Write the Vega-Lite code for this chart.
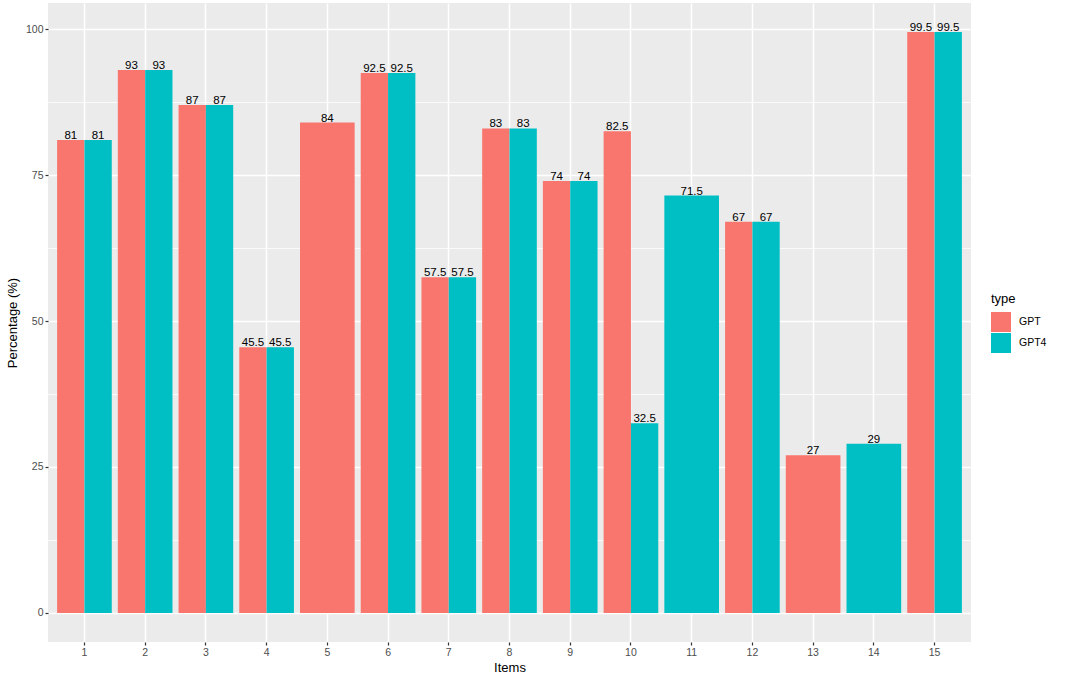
{
  "$schema": "https://vega.github.io/schema/vega-lite/v6.json",
  "width": 923,
  "height": 639,
  "autosize": {"type": "none"},
  "padding": {"left": 48, "top": 3, "right": 95, "bottom": 45},
  "background": "white",
  "config": {
    "font": "Liberation Sans",
    "view": {"fill": "#EBEBEB", "stroke": null}
  },
  "data": {
    "values": [
      {"item": "1", "type": "GPT", "value": 81},
      {"item": "1", "type": "GPT4", "value": 81},
      {"item": "2", "type": "GPT", "value": 93},
      {"item": "2", "type": "GPT4", "value": 93},
      {"item": "3", "type": "GPT", "value": 87},
      {"item": "3", "type": "GPT4", "value": 87},
      {"item": "4", "type": "GPT", "value": 45.5},
      {"item": "4", "type": "GPT4", "value": 45.5},
      {"item": "5", "type": "GPT", "value": 84},
      {"item": "6", "type": "GPT", "value": 92.5},
      {"item": "6", "type": "GPT4", "value": 92.5},
      {"item": "7", "type": "GPT", "value": 57.5},
      {"item": "7", "type": "GPT4", "value": 57.5},
      {"item": "8", "type": "GPT", "value": 83},
      {"item": "8", "type": "GPT4", "value": 83},
      {"item": "9", "type": "GPT", "value": 74},
      {"item": "9", "type": "GPT4", "value": 74},
      {"item": "10", "type": "GPT", "value": 82.5},
      {"item": "10", "type": "GPT4", "value": 32.5},
      {"item": "11", "type": "GPT4", "value": 71.5},
      {"item": "12", "type": "GPT", "value": 67},
      {"item": "12", "type": "GPT4", "value": 67},
      {"item": "13", "type": "GPT", "value": 27},
      {"item": "14", "type": "GPT4", "value": 29},
      {"item": "15", "type": "GPT", "value": 99.5},
      {"item": "15", "type": "GPT4", "value": 99.5}
    ]
  },
  "transform": [
    {"joinaggregate": [{"op": "count", "as": "n"}], "groupby": ["item"]}
  ],
  "encoding": {
    "x": {
      "field": "item",
      "type": "ordinal",
      "sort": ["1", "2", "3", "4", "5", "6", "7", "8", "9", "10", "11", "12", "13", "14", "15"],
      "scale": {"paddingInner": 0.1, "paddingOuter": 0.15},
      "axis": {
        "title": "Items",
        "titleFontSize": 13,
        "titleFontWeight": "normal",
        "titleColor": "black",
        "titlePadding": 4,
        "labelAngle": 0,
        "labelFontSize": 10.5,
        "labelColor": "#4D4D4D",
        "labelPadding": 2,
        "domain": false,
        "tickColor": "#333333",
        "tickSize": 3,
        "tickWidth": 1.2,
        "bandPosition": 0.5,
        "grid": true,
        "gridColor": "white",
        "gridWidth": 1.5
      }
    },
    "y": {
      "field": "value",
      "type": "quantitative",
      "scale": {"domain": [-4.975, 104.475], "nice": false, "zero": false},
      "axis": {
        "title": "Percentage (%)",
        "titleFontSize": 13,
        "titleFontWeight": "normal",
        "titleColor": "black",
        "titlePadding": 6,
        "values": [0, 12.5, 25, 37.5, 50, 62.5, 75, 87.5, 100],
        "labelExpr": "datum.value % 25 === 0 ? datum.label : ''",
        "labelFontSize": 10.5,
        "labelColor": "#4D4D4D",
        "labelPadding": 2,
        "domain": false,
        "tickColor": "#333333",
        "tickSize": 3,
        "tickWidth": 1.2,
        "tickOpacity": {"condition": {"test": "datum.value % 25 === 0", "value": 1}, "value": 0},
        "grid": true,
        "gridColor": "white",
        "gridWidth": {"condition": {"test": "datum.value % 25 === 0", "value": 1.5}, "value": 0.75}
      }
    },
    "color": {
      "field": "type",
      "type": "nominal",
      "scale": {"domain": ["GPT", "GPT4"], "range": ["#F8766D", "#00BFC4"]},
      "legend": {
        "title": "type",
        "orient": "none",
        "legendX": 943,
        "legendY": 290,
        "titleFontSize": 13,
        "titleFontWeight": "normal",
        "titleColor": "black",
        "titlePadding": 6,
        "labelFontSize": 10.5,
        "labelColor": "black",
        "labelOffset": 8,
        "symbolType": "square",
        "symbolSize": 400,
        "symbolStrokeWidth": 0,
        "symbolOpacity": 1,
        "rowPadding": 1
      }
    }
  },
  "layer": [
    {
      "transform": [{"filter": "datum.n == 2"}],
      "mark": {"type": "bar"},
      "encoding": {
        "xOffset": {"field": "type", "type": "nominal", "scale": {"paddingInner": 0, "paddingOuter": 0}}
      }
    },
    {
      "transform": [{"filter": "datum.n == 1"}],
      "mark": {"type": "bar"}
    },
    {
      "transform": [{"filter": "datum.n == 2"}],
      "mark": {"type": "text", "baseline": "alphabetic", "dy": -1, "fontSize": 11.5, "color": "black"},
      "encoding": {
        "xOffset": {"field": "type", "type": "nominal", "scale": {"paddingInner": 0, "paddingOuter": 0}},
        "text": {"field": "value", "type": "quantitative"},
        "color": {"value": "black"}
      }
    },
    {
      "transform": [{"filter": "datum.n == 1"}],
      "mark": {"type": "text", "baseline": "alphabetic", "dy": -1, "fontSize": 11.5, "color": "black"},
      "encoding": {
        "text": {"field": "value", "type": "quantitative"},
        "color": {"value": "black"}
      }
    }
  ]
}
